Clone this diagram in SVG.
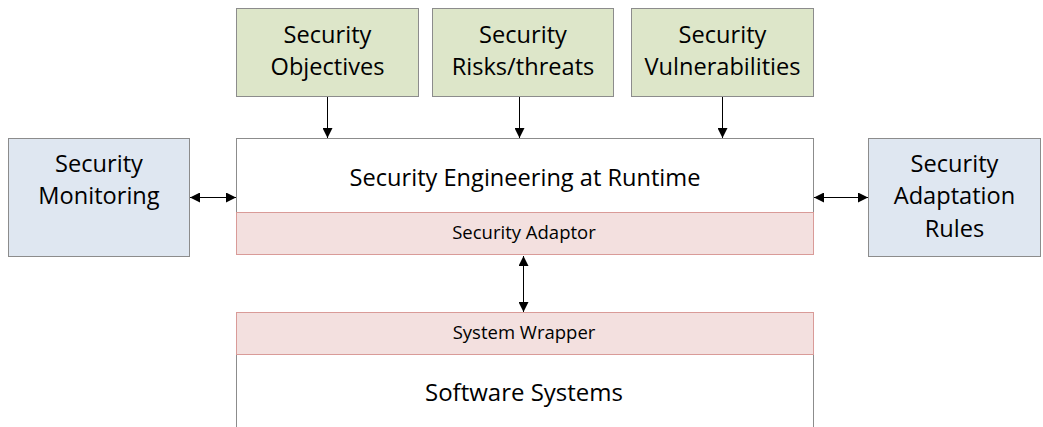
<svg xmlns="http://www.w3.org/2000/svg" width="1043" height="427" viewBox="0 0 1043 427">
<style>
text{font-family:"Open Sans",Lato,"Liberation Sans",sans-serif;fill:#000;text-anchor:middle}
.g{fill:#dde6c9;stroke:#8c8c8c;stroke-width:1}
.b{fill:#dfe7f1;stroke:#8c8c8c;stroke-width:1}
.p{fill:#f3e0df;stroke:#d99b98;stroke-width:1}
.w{fill:#fff;stroke:#8c8c8c;stroke-width:1}
.big{font-size:23.6px}
.sm{font-size:18.5px}
.c{stroke:#000;stroke-width:1;fill:none}
</style>
<defs>
<marker id="ah" viewBox="0 0 10 10" refX="10" refY="5" markerWidth="10" markerHeight="10" markerUnits="userSpaceOnUse" orient="auto-start-reverse">
<path d="M0,0 L10,5 L0,10 z" fill="#000"/>
</marker>
</defs>
<g id="objectives">
<rect class="g" x="236.5" y="8.5" width="182" height="88"/>
<text class="big" x="327.5" y="43">Security</text>
<text class="big" x="327.5" y="75">Objectives</text>
</g>
<g id="risks">
<rect class="g" x="432.5" y="8.5" width="181" height="88"/>
<text class="big" x="523" y="43">Security</text>
<text class="big" x="523" y="75">Risks/threats</text>
</g>
<g id="vulnerabilities">
<rect class="g" x="631.5" y="8.5" width="182" height="88"/>
<text class="big" x="722.5" y="43">Security</text>
<text class="big" x="722.5" y="75">Vulnerabilities</text>
</g>
<g id="monitoring">
<rect class="b" x="8.5" y="138.5" width="181" height="118"/>
<text class="big" x="99" y="172">Security</text>
<text class="big" x="99" y="204">Monitoring</text>
</g>
<g id="rules">
<rect class="b" x="868.5" y="138.5" width="172" height="118"/>
<text class="big" x="954.5" y="172">Security</text>
<text class="big" x="954.5" y="204">Adaptation</text>
<text class="big" x="954.5" y="237">Rules</text>
</g>
<g id="engineering">
<rect class="w" x="236.5" y="138.5" width="577" height="74"/>
<text class="big" x="525" y="186">Security Engineering at Runtime</text>
</g>
<g id="adaptor">
<rect class="p" x="236.5" y="212.5" width="577" height="42"/>
<text class="sm" x="524" y="239">Security Adaptor</text>
</g>
<g id="software">
<path class="w" d="M236.5,427 V354.5 H813.5 V427"/>
<text x="524" y="401" style="font-size:24px">Software Systems</text>
</g>
<g id="wrapper">
<rect class="p" x="236.5" y="312.5" width="577" height="42"/>
<text class="sm" x="524" y="339">System Wrapper</text>
</g>
<g id="connectors">
<line class="c" x1="327.5" y1="97" x2="327.5" y2="138" marker-end="url(#ah)"/>
<line class="c" x1="519.5" y1="97" x2="519.5" y2="138" marker-end="url(#ah)"/>
<line class="c" x1="722.5" y1="97" x2="722.5" y2="138" marker-end="url(#ah)"/>
<line class="c" x1="190" y1="197.5" x2="236" y2="197.5" marker-start="url(#ah)" marker-end="url(#ah)"/>
<line class="c" x1="814" y1="197.5" x2="868" y2="197.5" marker-start="url(#ah)" marker-end="url(#ah)"/>
<line class="c" x1="523.5" y1="256" x2="523.5" y2="312" marker-start="url(#ah)" marker-end="url(#ah)"/>
</g>
</svg>
